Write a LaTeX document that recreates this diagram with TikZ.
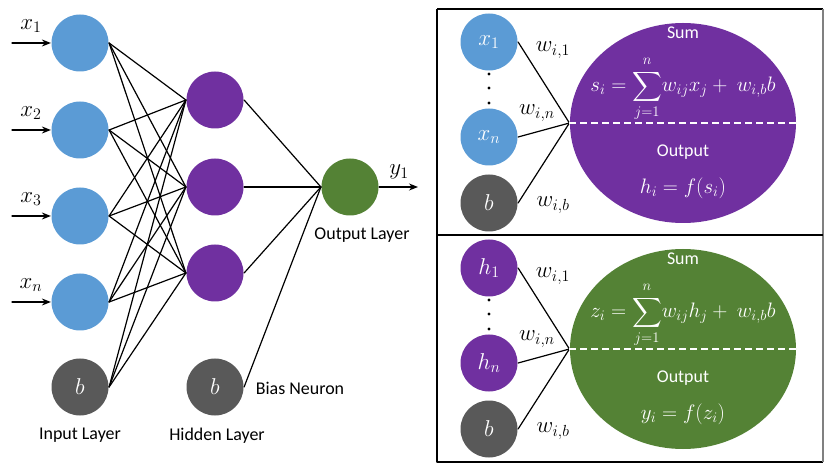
\RequirePackage{fix-cm}
\documentclass[tikz,border=0pt]{standalone}
\usepackage{amsmath}
\usepackage{fontspec}
\setmainfont{Carlito}
\usetikzlibrary{arrows.meta,shapes.geometric}
\definecolor{inblue}{HTML}{5B9BD5}
\definecolor{hidpurple}{HTML}{7030A0}
\definecolor{outgreen}{HTML}{548235}
\definecolor{biasgray}{HTML}{595959}
\tikzset{
	neuron/.style={circle,minimum size=57bp,inner sep=0pt,text=white},
	innode/.style={neuron,fill=inblue},
	hidnode/.style={neuron,fill=hidpurple},
	outnode/.style={neuron,fill=outgreen},
	biasnode/.style={neuron,fill=biasgray},
	sumnode/.style={ellipse,minimum width=226bp,minimum height=200bp,inner sep=0pt},
	wtext/.style={font=\fontsize{23}{26}\selectfont,inner sep=1bp},
	ftext/.style={font=\fontsize{21}{24}\selectfont,text=white,inner sep=0pt},
	ltext/.style={inner sep=1bp},
	cutline/.style={white,dash pattern=on 7bp off 4bp,line width=1.4bp,line cap=butt}
}
\begin{document}
\begin{tikzpicture}[x=1bp,y=-1bp,>={Stealth[length=9bp,width=7bp]},line width=1.2bp,
	line join=round,line cap=round,font=\fontsize{18}{21}\selectfont]
	\useasboundingbox (0,0) rectangle (830,468);
	% Mạng nơ-ron bên trái
	\node[innode] (i1) at (80,43) {};
	\node[innode] (i2) at (80,130) {};
	\node[innode] (i3) at (80,216) {};
	\node[innode] (i4) at (80,302) {};
	\node[biasnode,wtext] (ib) at (80,387) {$b$};
	\node[hidnode] (h1) at (215,100) {};
	\node[hidnode] (h2) at (215,187) {};
	\node[hidnode] (h3) at (215,273) {};
	\node[biasnode,wtext] (hb) at (215,387) {$b$};
	\node[outnode] (o1) at (350,187) {};
	\foreach \i in {1,2,3,4,b}
		\foreach \j in {1,2,3}
			\draw (i\i.east)--(h\j.west);
	\foreach \j in {1,2,3,b}
		\draw (h\j.east)--(o1.west);
	% Đầu vào, đầu ra
	\foreach \i/\t in {1/1,2/2,3/3,4/n}{
		\coordinate (a\i) at (12,{\i==1 ? 43 : (\i==2 ? 130 : (\i==3 ? 216 : 302))});
		\draw[->] (a\i)--(i\i.west);
		\node[wtext] (lx\i) at ([xshift=19bp,yshift=17bp]a\i) {$x_{\t}$};
	}
	\coordinate (y1) at (418,187);
	\draw[->] (o1.east)--(y1);
	\node[wtext] (ly1) at (399,172) {$y_1$};
	\node[ltext] (tin) at (80,435) {Input Layer};
	\node[ltext] (thid) at (217,436) {Hidden Layer};
	\node[ltext] (tout) at (362,235) {Output Layer};
	\node[ltext] (tbias) at (300,388) {Bias Neuron};
	% Khung bên phải
	\draw[line cap=butt] (437,9)--(437,462)--(823,462);
	\draw[line cap=butt] (437,9)--(823,9);
	\draw[line cap=butt,gray] (823,9)--(823,462);
	\draw[line cap=butt] (437,235)--(823,235);
	% Nơ-ron ẩn
	\node[innode,wtext] (px1) at (489,42) {$x_1$};
	\node[innode,wtext] (pxn) at (489,137) {$x_n$};
	\node[biasnode,wtext] (pb) at (489,203) {$b$};
	\foreach \y in {74,88,103} \fill (489,\y) circle (1.6bp);
	\node[sumnode,fill=hidpurple] (s1) at (683,123) {};
	\draw (px1.east)--(s1.west);
	\draw (pxn.east)--(s1.west);
	\draw (pb.east)--(s1.west);
	\draw[cutline] (s1.west)--(s1.east);
	\node[wtext] (w11) at (553,50) {$w_{i,1}$};
	\node[wtext] (w1n) at (537,113) {$w_{i,n}$};
	\node[wtext] (w1b) at (553,205) {$w_{i,b}$};
	\node[ltext,text=white] (ts1) at (683,33) {Sum};
	\node[ftext] (fs1) at (683,86) {$s_i=\displaystyle\sum_{j=1}^{n\vphantom{(}}\!w_{ij}x_j+\ w_{i,b}b$};
	\node[ltext,text=white] (to1) at (683,152) {Output};
	\node[ftext] (fo1) at (683,188) {$h_i=f(s_i)$};
	% Nơ-ron đầu ra
	\begin{scope}[shift={(0,226)}]
	\node[hidnode,wtext] (qh1) at (489,42) {$h_1$};
	\node[hidnode,wtext] (qhn) at (489,137) {$h_n$};
	\node[biasnode,wtext] (qb) at (489,203) {$b$};
	\foreach \y in {74,88,103} \fill (489,\y) circle (1.6bp);
	\node[sumnode,fill=outgreen] (s2) at (683,123) {};
	\draw (qh1.east)--(s2.west);
	\draw (qhn.east)--(s2.west);
	\draw (qb.east)--(s2.west);
	\draw[cutline] (s2.west)--(s2.east);
	\node[wtext] (w21) at (553,50) {$w_{i,1}$};
	\node[wtext] (w2n) at (537,113) {$w_{i,n}$};
	\node[wtext] (w2b) at (553,205) {$w_{i,b}$};
	\node[ltext,text=white] (ts2) at (683,33) {Sum};
	\node[ftext] (fs2) at (683,86) {$z_i=\displaystyle\sum_{j=1}^{n\vphantom{(}}\!w_{ij}h_j+\ w_{i,b}b$};
	\node[ltext,text=white] (to2) at (683,152) {Output};
	\node[ftext] (fo2) at (683,188) {$y_i=f(z_i)$};
	\end{scope}
\end{tikzpicture}
\end{document}
